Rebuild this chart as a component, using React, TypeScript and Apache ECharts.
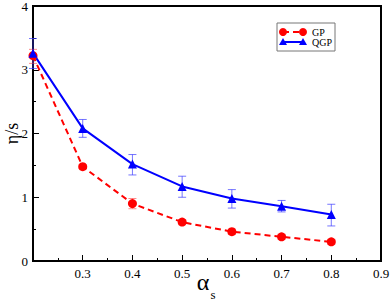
import React, { useEffect, useRef } from "react";
import * as echarts from "echarts";

const alphaS = [0.2, 0.3, 0.4, 0.5, 0.6, 0.7, 0.8];
const gpValues = [3.22, 1.48, 0.9, 0.61, 0.46, 0.38, 0.3];
const gpErrLow = [3.1, 1.45, 0.82, 0.57, 0.42, 0.34, 0.26];
const gpErrHigh = [3.32, 1.51, 0.98, 0.65, 0.5, 0.42, 0.34];
const qgpValues = [3.26, 2.08, 1.52, 1.17, 0.98, 0.86, 0.73];
const qgpErrLow = [3.02, 1.94, 1.35, 1.0, 0.83, 0.77, 0.55];
const qgpErrHigh = [3.49, 2.22, 1.67, 1.33, 1.12, 0.95, 0.89];
const xTicks = ["0.3", "0.4", "0.5", "0.6", "0.7", "0.8", "0.9"];
const yTicks = ["0", "1", "2", "3", "4"];
const legendNames = ["GP", "QGP"];
const xTitle = ["α", "s"];
const yTitle = "η/s";

const serif = "'Liberation Serif', 'Times New Roman', serif";

function errorBars(name: string, color: string, lows: number[], highs: number[]) {
  return {
    type: "custom",
    name,
    data: alphaS.map((x, i) => [x, lows[i], highs[i]]),
    renderItem: (params: any, api: any) => {
      const x = api.value(0);
      const lo = api.coord([x, api.value(1)]);
      const hi = api.coord([x, api.value(2)]);
      const w = 4;
      const style = { stroke: color, lineWidth: 1 };
      return {
        type: "group",
        children: [
          { type: "line", shape: { x1: lo[0], y1: lo[1], x2: hi[0], y2: hi[1] }, style },
          { type: "line", shape: { x1: lo[0] - w, y1: lo[1], x2: lo[0] + w, y2: lo[1] }, style },
          { type: "line", shape: { x1: hi[0] - w, y1: hi[1], x2: hi[0] + w, y2: hi[1] }, style },
        ],
      };
    },
    z: 1,
    silent: true,
  };
}

export default function App() {
  const ref = useRef<HTMLDivElement>(null);
  useEffect(() => {
    if (!ref.current) return;
    const chart = echarts.init(ref.current, undefined, { renderer: "svg" });
    const lx = 283;
    const ly1 = 32;
    const ly2 = 42;
    chart.setOption({
      animation: false,
      backgroundColor: "#fff",
      textStyle: { fontFamily: serif },
      grid: {
        left: 33,
        right: 9,
        top: 6,
        bottom: 39,
        containLabel: false,
        outerBoundsMode: "none",
        show: true,
        borderColor: "#000",
        borderWidth: 2,
        backgroundColor: "transparent",
      },
      xAxis: {
        type: "value",
        min: 0.2,
        max: 0.9,
        interval: 0.1,
        axisLine: { lineStyle: { color: "#000", width: 2 } },
        axisTick: { inside: true, length: 6, lineStyle: { color: "#000" } },
        minorTick: { show: true, splitNumber: 2, length: 3, lineStyle: { color: "#000" } },
        splitLine: { show: false },
        axisLabel: {
          fontFamily: serif,
          fontSize: 13,
          color: "#000",
          margin: 6,
          formatter: (v: number) => {
            const s = v.toFixed(1);
            return xTicks.includes(s) ? s : "";
          },
        },
      },
      yAxis: {
        type: "value",
        min: 0,
        max: 4,
        interval: 1,
        name: yTitle,
        nameLocation: "middle",
        nameGap: 12,
        nameMoveOverlap: false,
        nameTextStyle: { fontFamily: serif, fontSize: 18, color: "#000" },
        axisLine: { lineStyle: { color: "#000", width: 2 } },
        axisTick: { inside: true, length: 6, lineStyle: { color: "#000" } },
        minorTick: { show: true, splitNumber: 2, length: 3, lineStyle: { color: "#000" } },
        splitLine: { show: false },
        axisLabel: {
          fontFamily: serif,
          fontSize: 13,
          color: "#000",
          margin: 5,
          formatter: (v: number) => {
            const s = String(Math.round(v));
            return yTicks.includes(s) ? s : "";
          },
        },
      },
      series: [
        errorBars("GPerr", "rgba(255,60,60,0.6)", gpErrLow, gpErrHigh),
        errorBars("QGPerr", "rgba(60,60,255,0.7)", qgpErrLow, qgpErrHigh),
        {
          type: "line",
          name: legendNames[0],
          data: alphaS.map((x, i) => [x, gpValues[i]]),
          symbol: "circle",
          symbolSize: 9,
          itemStyle: { color: "#ff0000" },
          lineStyle: { color: "#ff0000", width: 2, type: [6, 4] },
          z: 3,
        },
        {
          type: "line",
          name: legendNames[1],
          data: alphaS.map((x, i) => [x, qgpValues[i]]),
          symbol: "triangle",
          symbolSize: 9,
          itemStyle: { color: "#0000ff" },
          lineStyle: { color: "#0000ff", width: 2 },
          z: 3,
        },
      ],
      graphic: [
        {
          type: "text",
          x: 203,
          y: 282,
          style: { text: xTitle[0], fontFamily: serif, fontSize: 24, fill: "#000", align: "center", verticalAlign: "middle" },
        },
        {
          type: "text",
          x: 213,
          y: 294,
          style: { text: xTitle[1], fontFamily: serif, fontSize: 13, fill: "#000", align: "center", verticalAlign: "middle" },
        },
        {
          type: "rect",
          shape: { x: 277, y: 23, width: 58, height: 28 },
          style: { fill: "#fff", stroke: "#777", lineWidth: 1 },
          z: 10,
        },
        {
          type: "line",
          shape: { x1: lx, y1: ly1, x2: lx + 20, y2: ly1 },
          style: { stroke: "#ff0000", lineWidth: 2, lineDash: [6, 4] },
          z: 11,
        },
        { type: "circle", shape: { cx: lx, cy: ly1, r: 4 }, style: { fill: "#ff0000" }, z: 12 },
        { type: "circle", shape: { cx: lx + 20, cy: ly1, r: 4 }, style: { fill: "#ff0000" }, z: 12 },
        {
          type: "line",
          shape: { x1: lx, y1: ly2, x2: lx + 20, y2: ly2 },
          style: { stroke: "#0000ff", lineWidth: 2 },
          z: 11,
        },
        {
          type: "polygon",
          shape: { points: [[lx - 4, ly2 + 3], [lx + 4, ly2 + 3], [lx, ly2 - 4]] },
          style: { fill: "#0000ff" },
          z: 12,
        },
        {
          type: "polygon",
          shape: { points: [[lx + 16, ly2 + 3], [lx + 24, ly2 + 3], [lx + 20, ly2 - 4]] },
          style: { fill: "#0000ff" },
          z: 12,
        },
        {
          type: "text",
          x: lx + 29,
          y: ly1,
          style: { text: legendNames[0], fontFamily: serif, fontSize: 10, fill: "#000", verticalAlign: "middle" },
          z: 12,
        },
        {
          type: "text",
          x: lx + 29,
          y: ly2,
          style: { text: legendNames[1], fontFamily: serif, fontSize: 10, fill: "#000", verticalAlign: "middle" },
          z: 12,
        },
      ],
    });
    return () => chart.dispose();
  }, []);
  return <div ref={ref} style={{ width: 390, height: 300, position: "absolute", left: 0, top: 0 }} />;
}
